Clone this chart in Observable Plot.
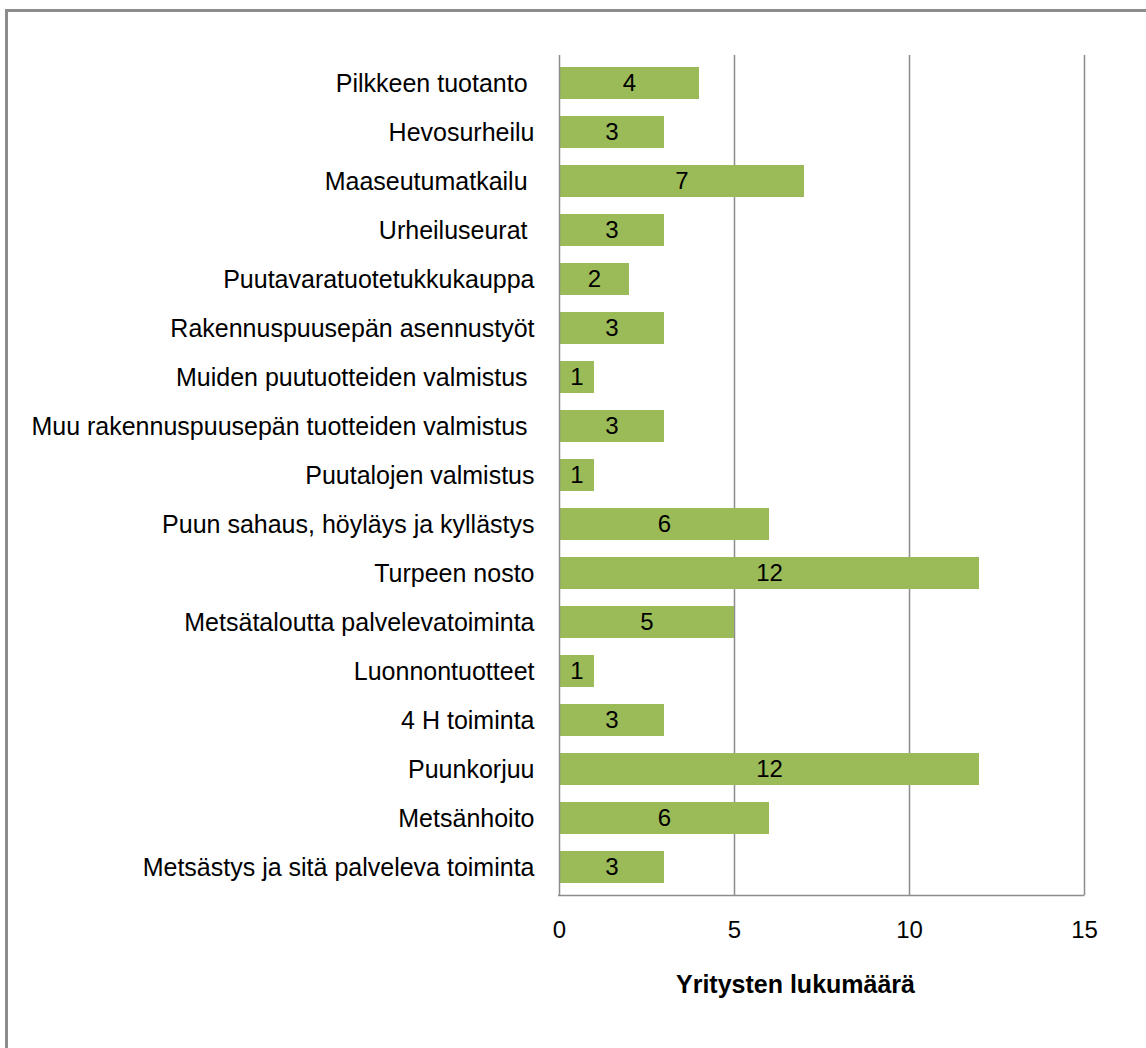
<!DOCTYPE html>
<html>
<head>
<meta charset="utf-8">
<script src="https://cdn.jsdelivr.net/npm/d3@7"></script>
<script src="https://cdn.jsdelivr.net/npm/@observablehq/plot@0.6"></script>
<style>
  html, body { margin: 0; padding: 0; background: #fff; }
  #wrap { position: relative; width: 1146px; height: 1048px; overflow: hidden; background: #fff; }
  #border { position: absolute; left: 5px; top: 9px; width: 3000px; height: 3000px;
            border-left: 3px solid #8c8c8c; border-top: 3px solid #8c8c8c; pointer-events: none; }
  #chart { position: absolute; left: 0; top: 0; }
</style>
</head>
<body>
<div id="wrap"><div id="chart"></div><div id="border"></div></div>
<script>
const categories = [
  "Pilkkeen tuotanto\u00a0",
  "Hevosurheilu",
  "Maaseutumatkailu\u00a0",
  "Urheiluseurat\u00a0",
  "Puutavaratuotetukkukauppa",
  "Rakennuspuusepän asennustyöt",
  "Muiden puutuotteiden valmistus\u00a0",
  "Muu rakennuspuusepän tuotteiden valmistus\u00a0",
  "Puutalojen valmistus",
  "Puun sahaus, höyläys ja kyllästys",
  "Turpeen nosto",
  "Metsätaloutta palvelevatoiminta",
  "Luonnontuotteet",
  "4 H toiminta",
  "Puunkorjuu",
  "Metsänhoito",
  "Metsästys ja sitä palveleva toiminta"
];
const values = [4, 3, 7, 3, 2, 3, 1, 3, 1, 6, 12, 5, 1, 3, 12, 6, 3];
const xTicks = [0, 5, 10, 15];
const gridTicks = [5, 10, 15];
const axisTitle = "Yritysten lukumäärä";

const data = categories.map((c, i) => ({category: c, value: values[i]}));

const bottomLine = (index, scales, values, dimensions) => {
  const {width, height, marginLeft, marginRight, marginBottom} = dimensions;
  const y = height - marginBottom + 0.5;
  const line = d3.create("svg:line")
    .attr("x1", marginLeft - 1).attr("x2", width - marginRight + 0.5)
    .attr("y1", y).attr("y2", y)
    .attr("stroke", "#8c8c8c").attr("stroke-width", 1.5);
  return line.node();
};

const chart = Plot.plot({
  width: 1146,
  height: 1048,
  marginLeft: 559,
  marginRight: 62,
  marginTop: 55,
  marginBottom: 153,
  style: {fontFamily: "'Liberation Sans', Arial, sans-serif", fontSize: "24px", color: "#000", background: "transparent"},
  x: {domain: [0, 15]},
  y: {domain: categories, paddingInner: 0.35, paddingOuter: 0.175},
  marks: [
    Plot.gridX(gridTicks, {stroke: "#8c8c8c", strokeOpacity: 1, strokeWidth: 1.5}),
    Plot.barX(data, {x: "value", y: "category", fill: "#9BBB59"}),
    Plot.ruleX([0], {stroke: "#8c8c8c", strokeWidth: 1.5}),
    bottomLine,
    Plot.text(data, {x: d => d.value / 2, y: "category", text: d => String(d.value), fill: "#000", fontSize: 24}),
    Plot.axisX({ticks: xTicks, tickSize: 0, tickPadding: 25, label: null, fontSize: 24, tickFormat: d => String(d)}),
    Plot.axisY({tickSize: 0, tickPadding: 25, label: null, fontSize: 25}),
    Plot.text([axisTitle], {frameAnchor: "bottom-left", dx: 236, dy: 97, text: d => d, fontWeight: "bold", fontSize: 25, fill: "#000", textAnchor: "middle"})
  ]
});
document.getElementById("chart").appendChild(chart);
</script>
</body>
</html>
